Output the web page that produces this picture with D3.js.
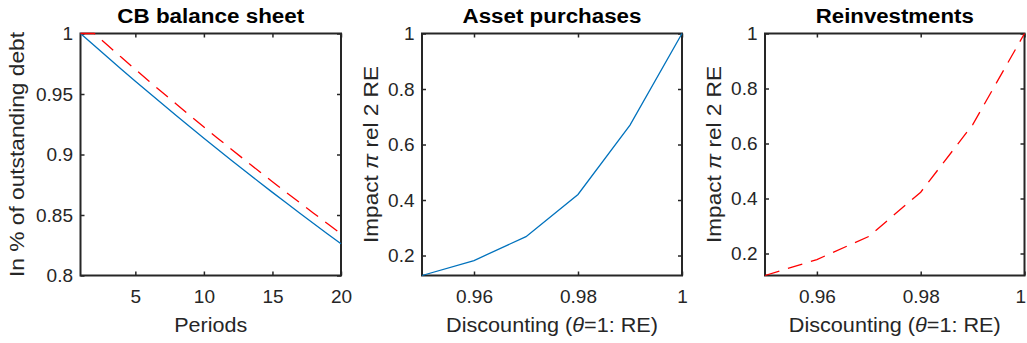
<!DOCTYPE html>
<html>
<head>
<meta charset="utf-8">
<script src="https://cdn.jsdelivr.net/npm/d3@7"></script>
<style>
  html, body { margin: 0; padding: 0; background: #fff; }
  svg { display: block; font-family: "Liberation Sans", Arial, Helvetica, sans-serif; }
</style>
</head>
<body>
<svg id="fig" width="1027" height="343"></svg>
<script>
// ---- data ----
const periods = [1,2,3,4,5,6,7,8,9,10,11,12,13,14,15,16,17,18,19,20];
// share of outstanding debt held, asset purchases (solid) vs reinvestments (dashed)
const balancePurchases = [1.0000,0.9900,0.9801,0.9703,0.9606,0.9510,0.9415,0.9321,0.9227,0.9135,
                          0.9044,0.8953,0.8864,0.8775,0.8687,0.8601,0.8515,0.8429,0.8345,0.8262];
const balanceReinvest  = [1.0000,1.0000,0.9900,0.9801,0.9703,0.9606,0.9510,0.9415,0.9321,0.9227,
                          0.9135,0.9044,0.8953,0.8864,0.8775,0.8687,0.8601,0.8515,0.8429,0.8345];
// discount factor theta and the inflation impact relative to rational expectations
const theta = [0.95,0.96,0.97,0.98,0.99,1.00];
const impactPurchases = [0.128,0.182,0.268,0.420,0.670,1.000];
const impactReinvest  = [0.120,0.178,0.262,0.423,0.668,1.000];

const ticks1X = [5,10,15,20];
const ticks1Y = [0.8,0.85,0.9,0.95,1];
const ticksThetaX = [0.96,0.98,1];
const ticksImpactY = [0.2,0.4,0.6,0.8,1];

const BLUE = "#0072BD", RED = "#FF0000", AXIS = "#262626";

const svg = d3.select("#fig");
const plotTop = 33.5, plotBottom = 275.5;
const figWidth = 1027;

const fmt = d => String(+d.toFixed(2));

function panel(opts) {
  const g = svg.append("g");
  const x = d3.scaleLinear().domain(opts.xDomain).range([opts.x0, opts.x1]);
  const y = d3.scaleLinear().domain(opts.yDomain).range([plotBottom, plotTop]);

  // box
  g.append("rect")
    .attr("x", opts.x0).attr("y", plotTop)
    .attr("width", opts.x1 - opts.x0).attr("height", plotBottom - plotTop)
    .attr("fill", "none").attr("stroke", AXIS).attr("stroke-width", 2);

  const tk = 4;
  // bottom axis with labels
  const ax = g.append("g").attr("transform", `translate(0,${plotBottom})`)
    .call(d3.axisBottom(x).tickValues(opts.xTicks).tickFormat(fmt)
      .tickSizeInner(-tk).tickSizeOuter(0).tickPadding(14));
  // top axis, ticks only
  const axT = g.append("g").attr("transform", `translate(0,${plotTop})`)
    .call(d3.axisTop(x).tickValues(opts.xTicks).tickFormat("")
      .tickSizeInner(-tk).tickSizeOuter(0));
  // left axis with labels
  const ay = g.append("g").attr("transform", `translate(${opts.x0},0)`)
    .call(d3.axisLeft(y).tickValues(opts.yTicks).tickFormat(fmt)
      .tickSizeInner(-tk).tickSizeOuter(0).tickPadding(7.5));
  // right axis, ticks only
  const ayR = g.append("g").attr("transform", `translate(${opts.x1},0)`)
    .call(d3.axisRight(y).tickValues(opts.yTicks).tickFormat("")
      .tickSizeInner(-tk).tickSizeOuter(0));

  [ax, axT, ay, ayR].forEach(a => {
    a.select(".domain").remove();
    a.selectAll(".tick line").attr("stroke", AXIS).attr("stroke-width", 1.5);
    a.selectAll(".tick text").attr("fill", AXIS)
      .style("font-size", "19px").style("font-family", "'Liberation Sans', Arial, sans-serif");
  });

  // keep the bottom tick labels inside the figure
  ax.selectAll(".tick text").each(function () {
    const b = this.getBBox();
    const m = this.parentNode.transform.baseVal.consolidate().matrix;
    const over = m.e + b.x + b.width - (figWidth - 1);
    if (over > 0) d3.select(this).attr("dx", -over);
  });

  // series, drawn over the box
  opts.series.forEach(s => {
    const line = d3.line().x((d, i) => x(s.x[i])).y(d => y(d));
    g.append("path")
      .datum(s.y)
      .attr("d", line)
      .attr("fill", "none")
      .attr("stroke", s.color)
      .attr("stroke-width", 1.3)
      .attr("stroke-dasharray", s.dash || null);
  });

  const cx = (opts.x0 + opts.x1) / 2;
  // title
  g.append("text")
    .attr("x", cx).attr("y", 22.5)
    .attr("text-anchor", "middle")
    .attr("font-weight", "bold").attr("font-size", 19.5)
    .attr("fill", "#000")
    .attr("textLength", opts.titleLen).attr("lengthAdjust", "spacingAndGlyphs")
    .text(opts.title);

  // x label
  const xl = g.append("text")
    .attr("x", cx).attr("y", 332)
    .attr("text-anchor", "middle").attr("font-size", 19.5).attr("fill", AXIS)
    .attr("textLength", opts.xLabelLen).attr("lengthAdjust", "spacingAndGlyphs");
  opts.xLabel.forEach(p => xl.append("tspan").attr("font-style", p.it ? "italic" : null).text(p.t));

  // y label
  const cy = (plotTop + plotBottom) / 2;
  const yl = g.append("text")
    .attr("transform", `translate(${opts.x0 - opts.yLabelOff},${cy}) rotate(-90)`)
    .attr("text-anchor", "middle").attr("font-size", 19.5).attr("fill", AXIS)
    .attr("textLength", opts.yLabelLen).attr("lengthAdjust", "spacingAndGlyphs");
  opts.yLabel.forEach(p => yl.append("tspan").attr("font-style", p.it ? "italic" : null).text(p.t));
}

panel({
  x0: 80.5, x1: 341,
  xDomain: [1, 20], yDomain: [0.8, 1],
  xTicks: ticks1X, yTicks: ticks1Y,
  series: [
    { x: periods, y: balancePurchases, color: BLUE },
    { x: periods, y: balanceReinvest, color: RED, dash: "15,9" }
  ],
  title: "CB balance sheet", titleLen: 187,
  xLabel: [{ t: "Periods" }], xLabelLen: 73,
  yLabel: [{ t: "In % of outstanding debt" }], yLabelLen: 245, yLabelOff: 56.5
});

panel({
  x0: 422, x1: 682,
  xDomain: [0.95, 1], yDomain: [d3.min(impactPurchases), 1],
  xTicks: ticksThetaX, yTicks: ticksImpactY,
  series: [ { x: theta, y: impactPurchases, color: BLUE } ],
  title: "Asset purchases", titleLen: 179,
  xLabel: [{ t: "Discounting (" }, { t: "θ", it: true }, { t: "=1: RE)" }], xLabelLen: 212,
  yLabel: [{ t: "Impact " }, { t: "π", it: true }, { t: " rel 2 RE" }], yLabelLen: 177, yLabelOff: 44.3
});

panel({
  x0: 765, x1: 1024.5,
  xDomain: [0.95, 1], yDomain: [d3.min(impactReinvest), 1],
  xTicks: ticksThetaX, yTicks: ticksImpactY,
  series: [ { x: theta, y: impactReinvest, color: RED, dash: "15,9" } ],
  title: "Reinvestments", titleLen: 158,
  xLabel: [{ t: "Discounting (" }, { t: "θ", it: true }, { t: "=1: RE)" }], xLabelLen: 212,
  yLabel: [{ t: "Impact " }, { t: "π", it: true }, { t: " rel 2 RE" }], yLabelLen: 177, yLabelOff: 44.3
});
</script>
</body>
</html>
